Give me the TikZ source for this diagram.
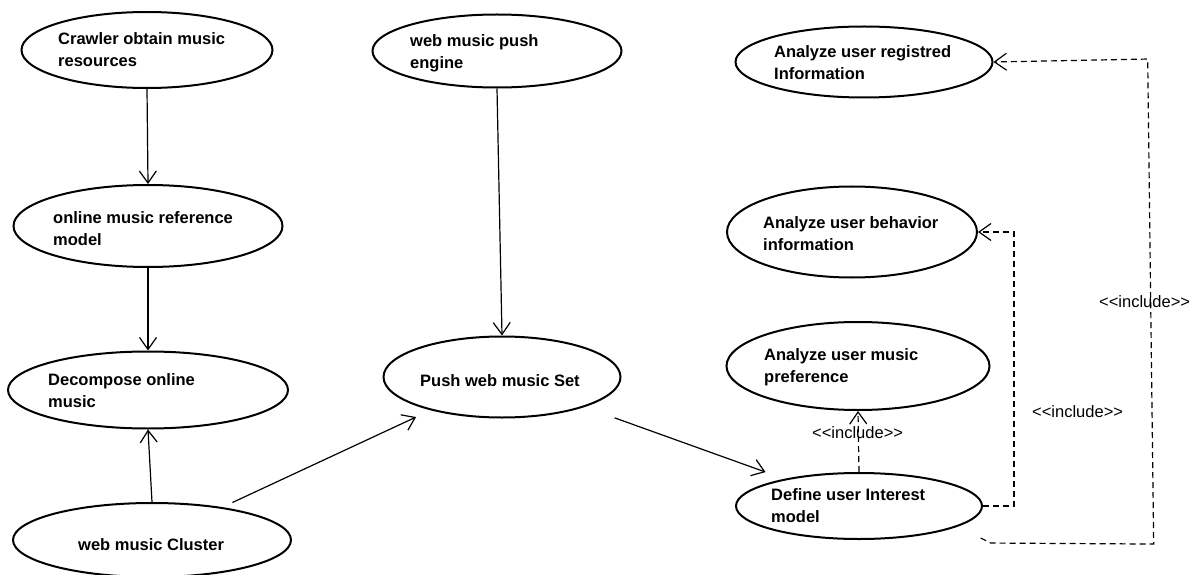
\documentclass[tikz,border=0pt]{standalone}
\usepackage{fontspec}
\setmainfont{Liberation Sans}
\usetikzlibrary{shapes.geometric,arrows.meta,calc}
\newcommand{\twolines}[2]{\vtop{\hbox{#1}\hbox{#2}}}
\newcommand{\incl}{<\kern0pt<include>\kern0pt>}
\begin{document}
\begin{tikzpicture}[x=1pt,y=-1pt,
  uc/.style={ellipse,draw,line width=2pt,inner sep=0pt},
  lbl/.style={anchor=base west,inner sep=0pt,font=\bfseries\fontsize{16.5}{22}\selectfont},
  inc/.style={anchor=base west,inner sep=0pt,font=\fontsize{16.5}{20}\selectfont},
  assoc/.style={line width=1.2pt,-{Straight Barb[length=12pt,width=17pt,line width=1.2pt]}},
  dep/.style={line width=1.2pt,dash pattern=on 6pt off 4pt,-{Straight Barb[length=12pt,width=17pt,line width=1.2pt]}}]
\useasboundingbox[fill=white] (0,0) rectangle (1192,575);

% use cases
\node[uc,minimum width=251pt,minimum height=76pt] (crawl) at (147,50) {};
\node[uc,minimum width=269pt,minimum height=82pt] (online) at (148,226) {};
\node[uc,minimum width=280pt,minimum height=77pt] (decomp) at (148,390) {};
\node[uc,minimum width=278pt,minimum height=74pt] (cluster) at (152,540) {};
\node[uc,minimum width=249pt,minimum height=73pt] (engine) at (497,51) {};
\node[uc,minimum width=237pt,minimum height=81pt] (pushset) at (502,377) {};
\node[uc,minimum width=246pt,minimum height=66pt] (define) at (859,506) {};
\node[uc,minimum width=263pt,minimum height=88pt] (pref) at (858,366) {};
\node[uc,minimum width=250pt,minimum height=91pt] (behav) at (852,232) {};
\node[uc,minimum width=257pt,minimum height=71pt] (reg) at (864,62) {};

% texts
\node[lbl] (crawlT) at (58,45) {\twolines{Crawler obtain music}{resources}};
\node[lbl] (onlineT) at (53,223) {\twolines{online music reference}{model}};
\node[lbl] (decompT) at (48,385) {\twolines{Decompose online}{music}};
\node[lbl] (clusterT) at (78,550) {web music Cluster};
\node[lbl] (engineT) at (410,47) {\twolines{web music push}{engine}};
\node[lbl] (pushsetT) at (420,386) {Push web music Set};
\node[lbl] (defineT) at (771,500) {\twolines{Define user Interest}{model}};
\node[lbl] (prefT) at (764,360) {\twolines{Analyze user music}{preference}};
\node[lbl] (behavT) at (763,228) {\twolines{Analyze user behavior}{information}};
\node[lbl] (regT) at (774,58) {\twolines{Analyze user registred}{Information}};

% associations
\draw[assoc] (crawl.south) -- (online.north);
\draw[assoc] (online.south) -- (decomp.north);
\draw[assoc] (cluster.north) -- (decomp.south);
\draw[assoc] (engine.south) -- (pushset.north);
\draw[assoc,shorten <=11pt,shorten >=16pt] (cluster.25) -- (pushset.205);
\draw[assoc,shorten <=32pt,shorten >=20pt] (pushset.340) -- (define.160);

% includes
\draw[dep] (define.north) -- (pref.south);
\draw[dep] (define.east) -- ++(31,0) |- (behav.east);
\draw[dep] ($(define.south east)+(34,8)$) -- ++(10,5) -- ++(163,1) -- ++(-6,-485) -- (reg.east);

\node[inc] (inc1) at (812,438) {\incl};
\node[inc] (inc2) at (1032,417) {\incl};
\node[inc] (inc3) at (1099,307) {\incl};
\end{tikzpicture}
\end{document}
